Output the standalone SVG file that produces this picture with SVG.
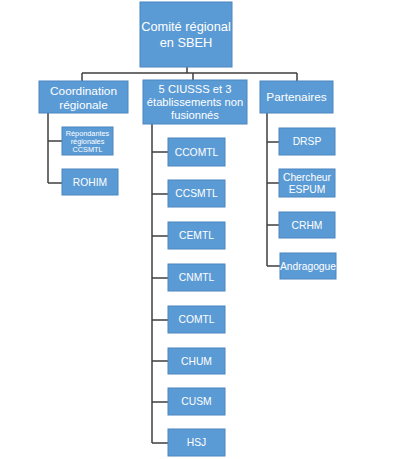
<svg xmlns="http://www.w3.org/2000/svg" width="400" height="459" viewBox="0 0 400 459">
<style>
.b{fill:#5b9bd5;stroke:#4a86bf;stroke-width:1}
.t{fill:#fff;font-family:"Liberation Sans",Arial,sans-serif;text-anchor:middle}
.s{font-size:10.3px}
.c{fill:none;stroke:#3f3f3f;stroke-width:1.5}
</style>
<rect width="400" height="459" fill="#fff"/>
<g id="connectors">
<path class="c" d="M187 66V73M82 73H297M82 73V81M193 73V80M297 73V81"/>
<path class="c" d="M48 113V183M48 141H62M48 183H62"/>
<path class="c" d="M152 124V443M152 152H168M152 194H168M152 236H168M152 278H168M152 320H168M152 361H168M152 402H168M152 443H168"/>
<path class="c" d="M267 113V266M267 142H279M267 183H279M267 225H279M267 266H280"/>
</g>
<g id="n-top"><rect class="b" x="140" y="2" width="92" height="65"/><text class="t" font-size="12.8"><tspan x="186" y="31">Comité régional</tspan><tspan x="186" y="47">en SBEH</tspan></text></g>
<g id="n-coord"><rect class="b" x="39" y="81" width="89" height="32"/><text class="t" font-size="11.8"><tspan x="83.5" y="94.5">Coordination</tspan><tspan x="83.5" y="108.5">régionale</tspan></text></g>
<g id="n-ciusss"><rect class="b" x="143" y="80" width="104" height="44"/><text class="t" font-size="11.2"><tspan x="195" y="93">5 CIUSSS et 3</tspan><tspan x="195" y="106">établissements non</tspan><tspan x="195" y="119">fusionnés</tspan></text></g>
<g id="n-part"><rect class="b" x="260" y="81" width="73" height="32"/><text class="t" font-size="11.8" x="296.5" y="101">Partenaires</text></g>
<g id="n-rep"><rect class="b" x="62" y="127" width="51" height="28"/><text class="t" font-size="7.3"><tspan x="87.5" y="135.5">Répondantes</tspan><tspan x="87.5" y="143.8">régionales</tspan><tspan x="87.5" y="152">CCSMTL</tspan></text></g>
<g id="n-rohim"><rect class="b" x="62" y="169" width="56" height="26"/><text class="t s" x="90" y="185.8">ROHIM</text></g>
<g id="n-ccomtl"><rect class="b" x="168" y="138" width="57" height="28"/><text class="t s" x="196.5" y="155.8">CCOMTL</text></g>
<g id="n-ccsmtl"><rect class="b" x="168" y="180" width="57" height="27"/><text class="t s" x="196.5" y="197.3">CCSMTL</text></g>
<g id="n-cemtl"><rect class="b" x="168" y="222" width="57" height="27"/><text class="t s" x="196.5" y="239.3">CEMTL</text></g>
<g id="n-cnmtl"><rect class="b" x="168" y="264" width="57" height="27"/><text class="t s" x="196.5" y="281.3">CNMTL</text></g>
<g id="n-comtl"><rect class="b" x="168" y="306" width="57" height="27"/><text class="t s" x="196.5" y="323.3">COMTL</text></g>
<g id="n-chum"><rect class="b" x="168" y="348" width="57" height="26"/><text class="t s" x="196.5" y="364.8">CHUM</text></g>
<g id="n-cusm"><rect class="b" x="168" y="388" width="57" height="27"/><text class="t s" x="196.5" y="405.3">CUSM</text></g>
<g id="n-hsj"><rect class="b" x="168" y="429" width="57" height="27"/><text class="t s" x="196.5" y="446.3">HSJ</text></g>
<g id="n-drsp"><rect class="b" x="279" y="128" width="56" height="27"/><text class="t s" x="307" y="145.3">DRSP</text></g>
<g id="n-chercheur"><rect class="b" x="279" y="169" width="56" height="28"/><text class="t s"><tspan x="307" y="181">Chercheur</tspan><tspan x="307" y="193">ESPUM</tspan></text></g>
<g id="n-crhm"><rect class="b" x="279" y="212" width="56" height="26"/><text class="t s" x="307" y="228.8">CRHM</text></g>
<g id="n-andra"><rect class="b" x="280" y="253" width="56" height="26"/><text class="t s" x="308" y="269.8">Andragogue</text></g>
</svg>
